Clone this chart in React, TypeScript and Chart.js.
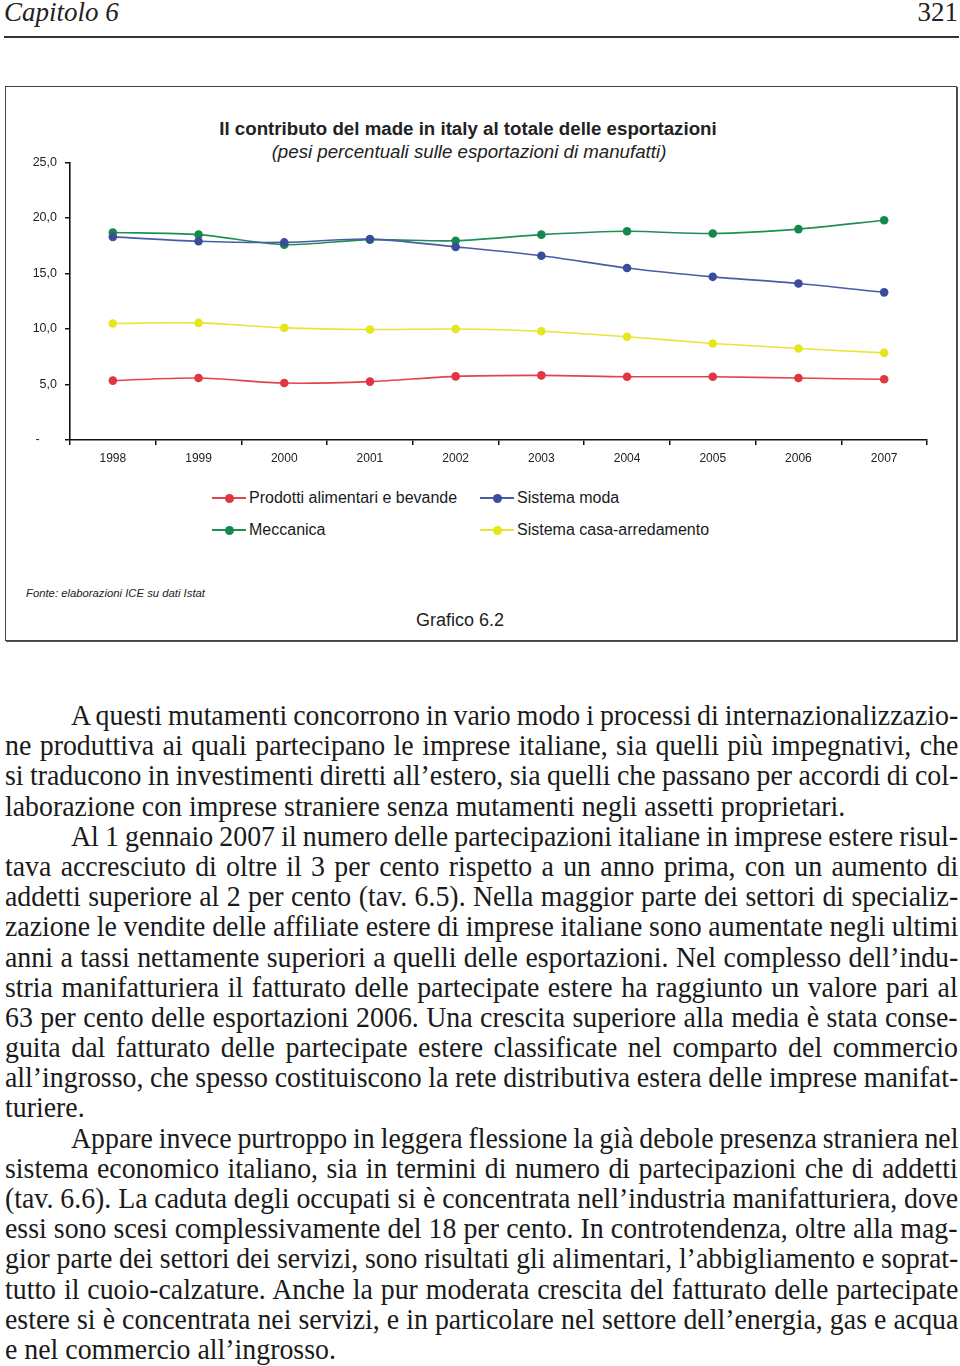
import React, { useEffect, useLayoutEffect, useRef } from "react";
import { Chart, registerables } from "chart.js";

Chart.register(...registerables);

const years = ["1998", "1999", "2000", "2001", "2002", "2003", "2004", "2005", "2006", "2007"];
const alimentari = [5.35, 5.58, 5.13, 5.26, 5.73, 5.82, 5.7, 5.7, 5.58, 5.47];
const moda = [18.3, 17.9, 17.8, 18.1, 17.4, 16.6, 15.5, 14.7, 14.1, 13.3];
const meccanica = [18.7, 18.5, 17.6, 18.05, 17.95, 18.5, 18.8, 18.6, 19.0, 19.8];
const casa = [10.5, 10.55, 10.1, 9.95, 10.0, 9.8, 9.3, 8.7, 8.25, 7.85];
const yTickLabels = ["-", "5,0", "10,0", "15,0", "20,0", "25,0"];

const seriesNames = ["Prodotti alimentari e bevande", "Sistema moda", "Meccanica", "Sistema casa-arredamento"];
const seriesColors = ["#e1353f", "#3a4c9c", "#14894b", "#e6e61c"];
const seriesLineColors = ["#e1444d", "#4a5ca6", "#1f8f55", "#e6e63a"];
const seriesData = [alimentari, moda, meccanica, casa];

const bodyLines = [
  "A questi mutamenti concorrono in vario modo i processi di internazionalizzazio-",
  "ne produttiva ai quali partecipano le imprese italiane, sia quelli più impegnativi, che",
  "si traducono in investimenti diretti all’estero, sia quelli che passano per accordi di col-",
  "laborazione con imprese straniere senza mutamenti negli assetti proprietari.",
  "Al 1 gennaio 2007 il numero delle partecipazioni italiane in imprese estere risul-",
  "tava accresciuto di oltre il 3 per cento rispetto a un anno prima, con un aumento di",
  "addetti superiore al 2 per cento (tav. 6.5). Nella maggior parte dei settori di specializ-",
  "zazione le vendite delle affiliate estere di imprese italiane sono aumentate negli ultimi",
  "anni a tassi nettamente superiori a quelli delle esportazioni. Nel complesso dell’indu-",
  "stria manifatturiera il fatturato delle partecipate estere ha raggiunto un valore pari al",
  "63 per cento delle esportazioni 2006. Una crescita superiore alla media è stata conse-",
  "guita dal fatturato delle partecipate estere classificate nel comparto del commercio",
  "all’ingrosso, che spesso costituiscono la rete distributiva estera delle imprese manifat-",
  "turiere.",
  "Appare invece purtroppo in leggera flessione la già debole presenza straniera nel",
  "sistema economico italiano, sia in termini di numero di partecipazioni che di addetti",
  "(tav. 6.6). La caduta degli occupati si è concentrata nell’industria manifatturiera, dove",
  "essi sono scesi complessivamente del 18 per cento. In controtendenza, oltre alla mag-",
  "gior parte dei settori dei servizi, sono risultati gli alimentari, l’abbigliamento e soprat-",
  "tutto il cuoio-calzature. Anche la pur moderata crescita del fatturato delle partecipate",
  "estere si è concentrata nei servizi, e in particolare nel settore dell’energia, gas e acqua",
  "e nel commercio all’ingrosso.",
];
const indentedLines = [0, 4, 14];
const lastLines = [3, 13, 21];

const BODY_SCALE = 0.96;
const BODY_FONT = "29px 'Liberation Serif', 'Times New Roman', serif";
const LINE_H = 30.19;

function BodyLine({ text, index }: { text: string; index: number }) {
  const ref = useRef<HTMLSpanElement>(null);
  const left = indentedLines.includes(index) ? 71 : 5;
  const justify = !lastLines.includes(index);
  useLayoutEffect(() => {
    const el = ref.current;
    if (!el) return;
    const fit = () => {
      el.style.wordSpacing = "0px";
      if (!justify) return;
      const w = el.offsetWidth;
      const target = (958 - left) / BODY_SCALE;
      const gaps = (text.match(/ /g) || []).length;
      if (gaps) el.style.wordSpacing = (target - w) / gaps + "px";
    };
    fit();
    if ((document as any).fonts && (document as any).fonts.ready) {
      (document as any).fonts.ready.then(fit);
    }
  }, [text, left, justify]);
  return (
    <span
      ref={ref}
      style={{
        position: "absolute",
        left,
        top: 700 + index * LINE_H,
        whiteSpace: "pre",
        font: BODY_FONT,
        lineHeight: LINE_H + "px",
        color: "#1a1a1a",
        transform: `scaleX(${BODY_SCALE})`,
        transformOrigin: "0 0",
      }}
    >
      {text}
    </span>
  );
}

function LineChart() {
  const canvasRef = useRef<HTMLCanvasElement>(null);
  useEffect(() => {
    const canvas = canvasRef.current;
    if (!canvas) return;
    const chart = new Chart(canvas, {
      type: "line",
      data: {
        labels: years,
        datasets: seriesData.map((d, i) => ({
          label: seriesNames[i],
          data: d,
          borderColor: seriesLineColors[i],
          backgroundColor: seriesColors[i],
          pointBackgroundColor: seriesColors[i],
          pointBorderColor: seriesColors[i],
          pointRadius: 4.3,
          pointBorderWidth: 0,
          borderWidth: 1.6,
          tension: 0.3,
          fill: false,
        })),
      },
      options: {
        responsive: false,
        maintainAspectRatio: false,
        animation: false,
        layout: { padding: { left: 0, right: 33, top: 7, bottom: 0 } },
        plugins: {
          legend: { display: false },
          title: { display: false },
          tooltip: { enabled: false },
        },
        scales: {
          x: {
            type: "category",
            offset: true,
            grid: {
              offset: true,
              drawOnChartArea: false,
              drawTicks: true,
              tickLength: 5,
              color: "#111",
              lineWidth: 1.5,
            },
            border: { display: true, color: "#111", width: 1.6 },
            ticks: {
              color: "#222",
              font: { family: "'Liberation Sans', Arial, sans-serif", size: 12 },
              padding: 6,
              maxRotation: 0,
              autoSkip: false,
            },
            afterFit: (scale: any) => {
              scale.height = 35;
            },
          },
          y: {
            min: 0,
            max: 25,
            grid: {
              drawOnChartArea: false,
              drawTicks: true,
              tickLength: 5,
              color: "#111",
              lineWidth: 1.5,
            },
            border: { display: true, color: "#111", width: 1.6 },
            ticks: {
              stepSize: 5,
              color: "#222",
              padding: 8,
              font: { family: "'Liberation Sans', Arial, sans-serif", size: 12.5 },
              callback: (_v: any, idx: number) => (idx === 0 ? yTickLabels[0] + "     " : yTickLabels[idx]),
            },
            afterFit: (scale: any) => {
              scale.width = 70;
            },
          },
        },
      },
    } as any);
    return () => chart.destroy();
  }, []);
  return (
    <canvas
      ref={canvasRef}
      width={960}
      height={328}
      style={{ position: "absolute", left: 0, top: 147, width: 960, height: 328 }}
    />
  );
}

function LegendItem({ i, x, y }: { i: number; x: number; y: number }) {
  return (
    <div style={{ position: "absolute", left: x, top: y - 10, height: 20, display: "flex", alignItems: "center" }}>
      <div style={{ position: "relative", width: 34, height: 20 }}>
        <div style={{ position: "absolute", left: 0, top: 9, width: 34, height: 2, background: seriesLineColors[i] }} />
        <div
          style={{
            position: "absolute",
            left: 12.5,
            top: 5.5,
            width: 9,
            height: 9,
            borderRadius: "50%",
            background: seriesColors[i],
          }}
        />
      </div>
      <span
        style={{
          marginLeft: 3,
          font: "16px 'Liberation Sans', Arial, sans-serif",
          color: "#1a1a1a",
          whiteSpace: "nowrap",
        }}
      >
        {seriesNames[i]}
      </span>
    </div>
  );
}

export default function App() {
  const sans = "'Liberation Sans', Arial, sans-serif";
  const serif = "'Liberation Serif', 'Times New Roman', serif";
  return (
    <div style={{ position: "absolute", left: 0, top: 0, width: 960, height: 1366, background: "#fff", overflow: "hidden" }}>
      {/* header */}
      <div style={{ position: "absolute", left: 4, top: -3, font: `italic 27px ${serif}`, color: "#222", lineHeight: "30px" }}>
        Capitolo 6
      </div>
      <div style={{ position: "absolute", right: 2, top: -3, font: `27px ${serif}`, color: "#222", lineHeight: "30px" }}>
        321
      </div>
      <div style={{ position: "absolute", left: 4, top: 36, width: 955, height: 1.5, background: "#333" }} />

      {/* chart box */}
      <div
        style={{
          position: "absolute",
          left: 5,
          top: 86,
          width: 950,
          height: 553,
          border: "1px solid #444",
          boxShadow: "1px 1px 0 #555",
        }}
      />
      <div style={{ position: "absolute", left: 0, width: 936, top: 118, textAlign: "center", font: `bold 18.7px ${sans}`, color: "#222", lineHeight: "22px" }}>
        Il contributo del made in italy al totale delle esportazioni
      </div>
      <div style={{ position: "absolute", left: 0, width: 938, top: 141, textAlign: "center", font: `italic 18.7px ${sans}`, color: "#222", lineHeight: "22px" }}>
        (pesi percentuali sulle esportazioni di manufatti)
      </div>
      <LineChart />
      <LegendItem i={0} x={212} y={498} />
      <LegendItem i={1} x={480} y={498} />
      <LegendItem i={2} x={212} y={530} />
      <LegendItem i={3} x={480} y={530} />
      <div style={{ position: "absolute", left: 26, top: 586, font: `italic 11.3px ${sans}`, color: "#222", lineHeight: "14px" }}>
        Fonte: elaborazioni ICE su dati Istat
      </div>
      <div style={{ position: "absolute", left: 0, width: 920, top: 609, textAlign: "center", font: `18px ${sans}`, color: "#222", lineHeight: "22px" }}>
        Grafico 6.2
      </div>

      {/* body text */}
      {bodyLines.map((t, i) => (
        <BodyLine key={i} text={t} index={i} />
      ))}
    </div>
  );
}
